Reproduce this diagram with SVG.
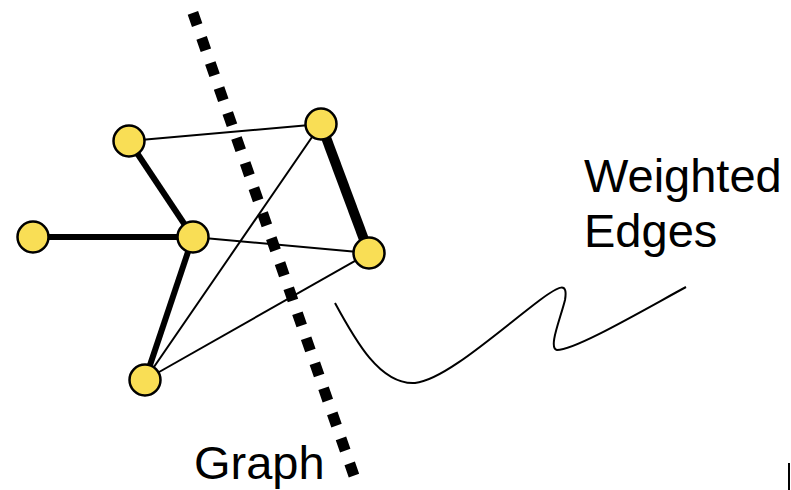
<svg xmlns="http://www.w3.org/2000/svg" width="791" height="490" viewBox="0 0 791 490">
<style>
.node{fill:#f9de55;stroke:#000;stroke-width:2.5}
.e{stroke:#000;fill:none;stroke-linecap:butt}
.thin{stroke-width:2}
.mid{stroke-width:6}
.thick{stroke-width:10}
.lbl{font-family:"Liberation Sans",Arial,sans-serif;font-size:47px;fill:#000}
</style>
<rect width="791" height="490" fill="#fff"/>
<path d="M192.9,12.9 L354.1,476.1" stroke="#000" stroke-width="11" stroke-dasharray="13 13.5" fill="none"/>
<g id="connectors">
<line class="e thin" x1="129" y1="141" x2="321" y2="124"/>
<line class="e mid" x1="129" y1="141" x2="193" y2="237"/>
<line class="e mid" x1="33" y1="237" x2="193" y2="237"/>
<line class="e mid" x1="193" y1="237" x2="145" y2="380"/>
<line class="e thick" x1="321" y1="124" x2="369" y2="253"/>
<line class="e thin" x1="193" y1="237" x2="369" y2="253"/>
<line class="e thin" x1="145" y1="380" x2="321" y2="124"/>
<line class="e thin" x1="145" y1="380" x2="369" y2="253"/>
</g>
<g id="n1"><circle class="node" cx="129" cy="141" r="15.5"/></g>
<g id="n2"><circle class="node" cx="321" cy="124" r="15.5"/></g>
<g id="n3"><circle class="node" cx="33" cy="237" r="15.5"/></g>
<g id="n4"><circle class="node" cx="193" cy="237" r="15.5"/></g>
<g id="n5"><circle class="node" cx="369" cy="253" r="15.5"/></g>
<g id="n6"><circle class="node" cx="145" cy="380" r="15.5"/></g>
<path d="M335,303 C355,340 380,385 415,383 C445,380 500,330 540,300 C560,285 568,282 565,300 C560,320 548,348 557,350 C575,350 640,312 686,287" fill="none" stroke="#000" stroke-width="2"/>
<text class="lbl" x="584" y="192">Weighted</text>
<text class="lbl" x="584" y="247">Edges</text>
<text class="lbl" x="194" y="479">Graph</text>
<rect x="788" y="463" width="2" height="27" fill="#000"/>
</svg>
